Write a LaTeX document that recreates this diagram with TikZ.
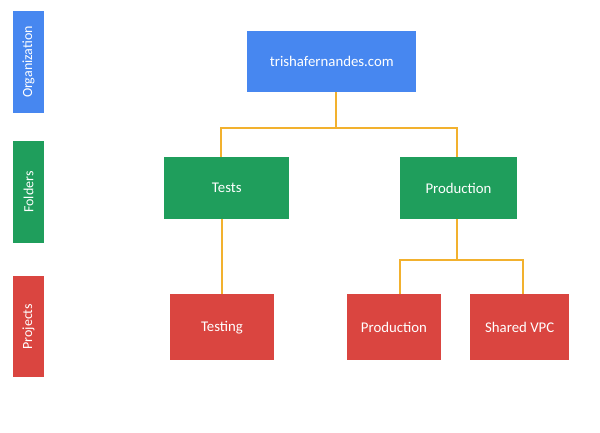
\documentclass[tikz,border=0pt]{standalone}
\usepackage{fontspec}
\setmainfont{Carlito}
\definecolor{gblue}{HTML}{4787F0}
\definecolor{ggreen}{HTML}{1F9E5C}
\definecolor{gred}{HTML}{DA4540}
\definecolor{gyellow}{HTML}{F2B12E}
\begin{document}
\begin{tikzpicture}[x=1pt,y=-1pt,
  box/.style={inner sep=0pt, text=white, font=\fontsize{14.8}{17}\selectfont},
  sidebar/.style={inner sep=0pt, minimum width=101.4pt, minimum height=30.4pt, text=white, font=\fontsize{14}{17}\selectfont},
  conn/.style={draw=gyellow, line width=2pt}]
\useasboundingbox[fill=white] (0,0) rectangle (600,432);
% side bars
\node[sidebar, fill=gblue, rotate=90] (lorg) at (28.5,62) {Organization};
\node[sidebar, fill=ggreen, rotate=90] (lfold) at (28.5,192) {Folders};
\node[sidebar, fill=gred, rotate=90] (lproj) at (28.5,326.7) {Projects};
% boxes
\node[box, fill=gblue, minimum width=169pt, minimum height=60.7pt] (org) at (331.8,61.7) {trishafernandes.com};
\node[box, fill=ggreen, minimum width=125pt, minimum height=61.4pt] (tests) at (226.8,188) {Tests};
\node[box, fill=ggreen, minimum width=116.4pt, minimum height=61.4pt] (prodf) at (458.5,188) {Production};
\node[box, fill=gred, minimum width=104pt, minimum height=65.7pt] (testing) at (222,327.2) {Testing};
\node[box, fill=gred, minimum width=94pt, minimum height=65.7pt] (prodp) at (394,327.2) {Production};
\node[box, fill=gred, minimum width=99.3pt, minimum height=65.7pt] (vpc) at (519.7,327.2) {Shared VPC};
% connectors
\coordinate (j1) at ([xshift=3.9pt]org.south);
\coordinate (h1) at ([yshift=-35.3pt]j1);
\draw[conn] (j1) -- (h1);
\draw[conn] (h1) -| ([xshift=-5.5pt]tests.north);
\draw[conn] (h1) -| ([xshift=-1.5pt]prodf.north);
\draw[conn] (testing.north) -- (testing.north |- tests.south);
\coordinate (j2) at ([xshift=-1.2pt]prodf.south);
\coordinate (h2) at ([yshift=-41.3pt]j2);
\draw[conn] (j2) -- (h2);
\draw[conn] (h2) -| ([xshift=6.3pt]prodp.north);
\draw[conn] (h2) -| ([xshift=3.6pt]vpc.north);
\end{tikzpicture}
\end{document}
